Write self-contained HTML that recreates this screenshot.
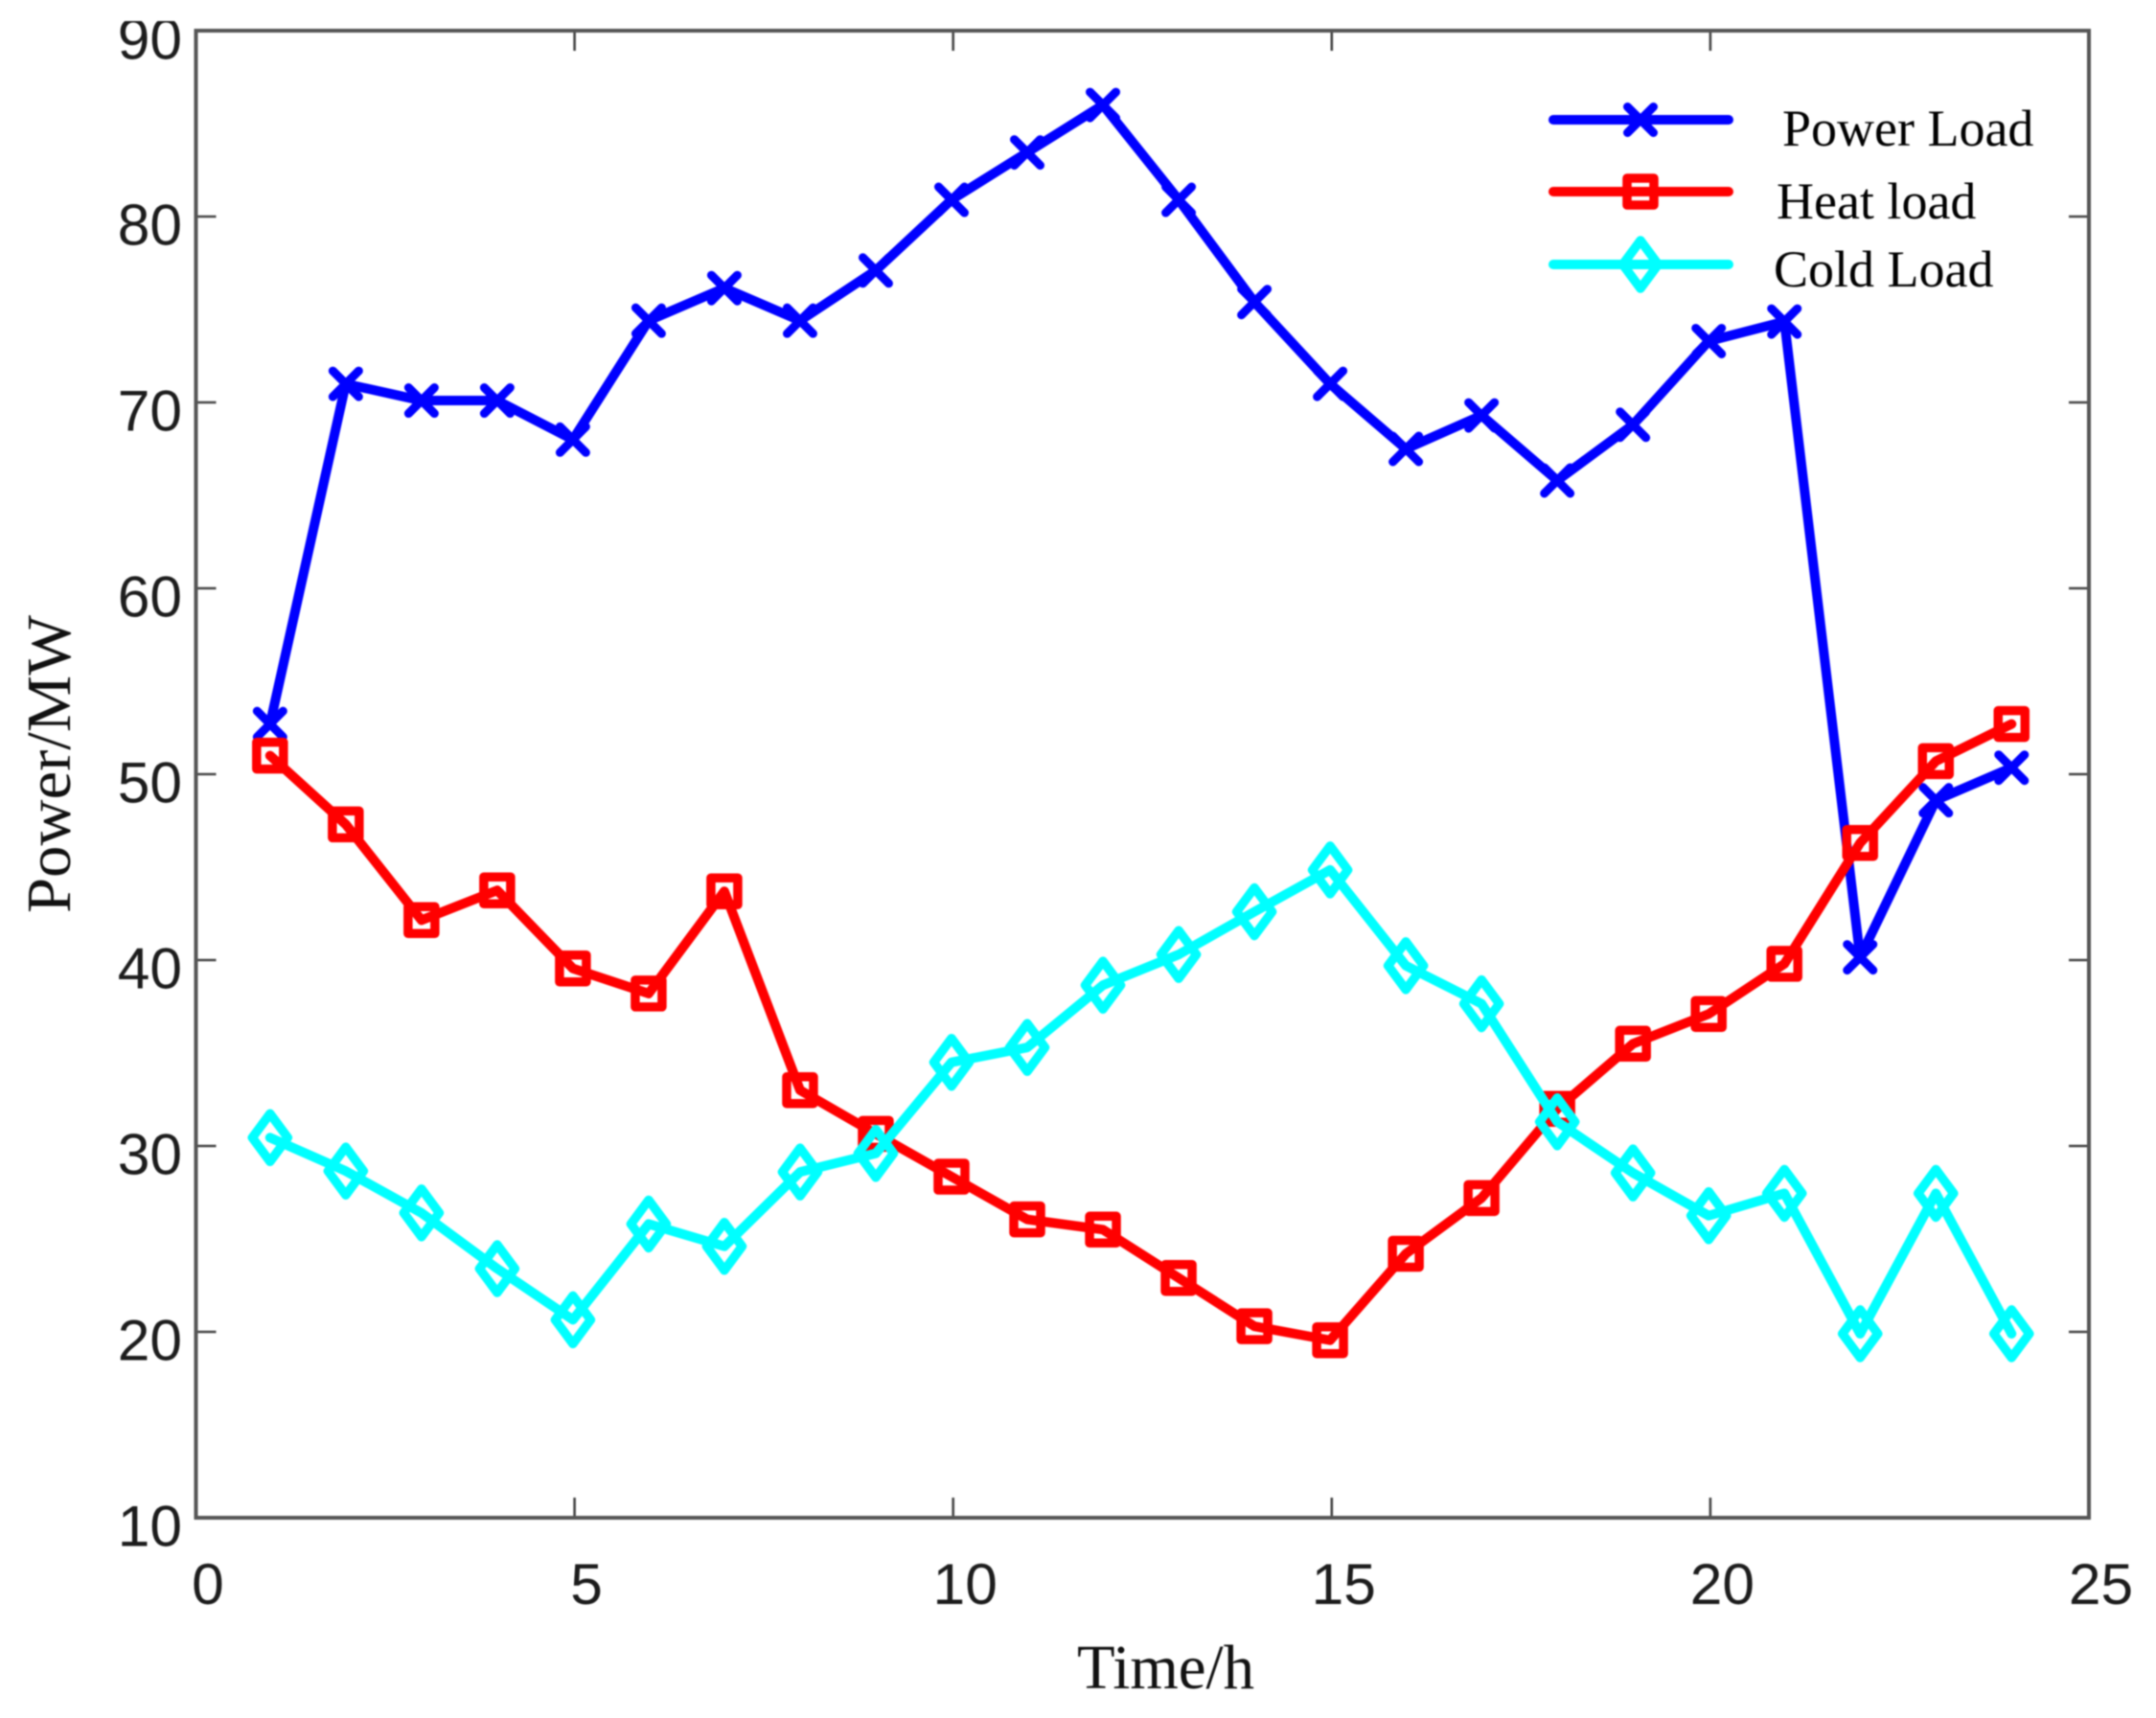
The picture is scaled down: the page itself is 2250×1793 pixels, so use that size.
<!DOCTYPE html>
<html lang="en">
<head>
<meta charset="utf-8">
<title>Power, heat and cold load over time</title>
<style>
  html, body { margin: 0; padding: 0; background: #fff; }
  body { width: 2250px; height: 1793px; overflow: hidden; }
  svg { display: block; filter: blur(0.7px); }
  .tick-label { font-family: "Liberation Sans", sans-serif; font-size: 60.5px; fill: #1c1c1c; }
  .title { font-family: "Liberation Serif", serif; font-size: 66px; fill: #111; }
  .legend-text { font-family: "Liberation Serif", serif; font-size: 54px; fill: #000; }
</style>
</head>
<body>
<svg id="chart" xmlns="http://www.w3.org/2000/svg" width="2250" height="1793" viewBox="0 0 2250 1793">
  <rect x="0" y="0" width="2250" height="1793" fill="#ffffff"/>
  <g id="ticks"></g>
  <g id="tick-labels"></g>
  <rect x="204.5" y="32" width="1975.5" height="1552" fill="none" stroke="#555" stroke-width="4"/>
  <text class="title" x="1124" y="1762" textLength="185" lengthAdjust="spacingAndGlyphs">Time/h</text>
  <text class="title" transform="translate(73 953) rotate(-90)" x="0" y="0" textLength="311" lengthAdjust="spacingAndGlyphs">Power/MW</text>
  <g id="series"></g>
  <g id="legend">
    <text class="legend-text" x="1860" y="152">Power Load</text>
    <text class="legend-text" x="1854" y="228">Heat load</text>
    <text class="legend-text" x="1851" y="299">Cold Load</text>
  </g>
</svg>
<script>
const hours = [1,2,3,4,5,6,7,8,9,10,11,12,13,14,15,16,17,18,19,20,21,22,23,24];
const powerLoad = [52.7,71.0,70.1,70.1,68.0,74.4,76.15,74.4,77.1,80.9,83.45,86.0,80.9,75.4,71.0,67.5,69.3,65.8,68.8,73.3,74.35,40.15,48.6,50.35];
const heatLoad = [51.0,47.3,42.15,43.75,39.55,38.2,43.7,33.0,30.65,28.35,26.05,25.5,22.9,20.3,19.55,24.2,27.2,32.0,35.5,37.1,39.8,46.3,50.7,52.7];
const coldLoad = [30.45,28.65,26.4,23.4,20.65,25.8,24.6,28.6,29.6,34.5,35.3,38.65,40.3,42.6,44.85,39.7,37.65,31.3,28.55,26.25,27.45,19.9,27.45,19.9];
const xTickValues = [0,5,10,15,20,25];
const yTickValues = [10,20,30,40,50,60,70,80,90];

const NS = 'http://www.w3.org/2000/svg';
const plotLeft = 204.5, plotRight = 2180, plotTop = 32, plotBottom = 1584;
const xMin = 0, xMax = 25, yMin = 10, yMax = 90;
const markShift = -1.7;
function xScale(v) { return plotLeft + (v - xMin) / (xMax - xMin) * (plotRight - plotLeft); }
function yScale(v) { return plotBottom - (v - yMin) / (yMax - yMin) * (plotBottom - plotTop); }

function make(tag, attrs, parent) {
  const el = document.createElementNS(NS, tag);
  for (const k in attrs) el.setAttribute(k, attrs[k]);
  parent.appendChild(el);
  return el;
}

const ticksG = document.getElementById('ticks');
const labelsG = document.getElementById('tick-labels');
const tickLen = 21;
const tickStyle = { stroke: '#444', 'stroke-width': 2.6 };

xTickValues.forEach(function (v) {
  const x = xScale(v);
  if (v !== xMin && v !== xMax) {
    const b = make('line', Object.assign({ x1: x, x2: x, y1: plotBottom, y2: plotBottom - tickLen }, tickStyle), ticksG);
    
    
    const t = make('line', Object.assign({ x1: x, x2: x, y1: plotTop, y2: plotTop + tickLen }, tickStyle), ticksG);
    
    
  }
  const label = make('text', { class: 'tick-label', x: x + 12.5, y: 1674, 'text-anchor': 'middle' }, labelsG);
  label.textContent = String(v);
  
  
});

yTickValues.forEach(function (v) {
  const y = yScale(v);
  if (v !== yMin && v !== yMax) {
    const l = make('line', Object.assign({ x1: plotLeft, x2: plotLeft + tickLen, y1: y, y2: y }, tickStyle), ticksG);
    
    
    const r = make('line', Object.assign({ x1: plotRight, x2: plotRight - tickLen, y1: y, y2: y }, tickStyle), ticksG);
    
    
  }
  const label = make('text', { class: 'tick-label', x: 190, y: y + 29.5, 'text-anchor': 'end' }, labelsG);
  label.textContent = String(v);
  
  
});

/* cover: the top of the "90" label is cut off in the source figure */
const topMask = make('rect', { x: 100, y: 0, width: 100, height: 22, fill: '#fff' }, labelsG);



function markerPath(kind, cx, cy) {
  if (kind === 'x') {
    const r = 13.5;
    return 'M' + (cx - r) + ' ' + (cy - r) + 'L' + (cx + r) + ' ' + (cy + r) +
           'M' + (cx - r) + ' ' + (cy + r) + 'L' + (cx + r) + ' ' + (cy - r);
  }
  if (kind === 'square') {
    const r = 14;
    return 'M' + (cx - r) + ' ' + (cy - r) + 'H' + (cx + r) + 'V' + (cy + r) + 'H' + (cx - r) + 'Z';
  }
  const w = 18.5, h = 25;
  return 'M' + cx + ' ' + (cy - h) + 'L' + (cx + w) + ' ' + cy + 'L' + cx + ' ' + (cy + h) + 'L' + (cx - w) + ' ' + cy + 'Z';
}

function drawSeries(values, color, kind, markerWidth, seriesName) {
  const parent = document.getElementById('series');
  const group = make('g', {}, parent);
  
  
  const pts = values.map(function (v, i) { return (xScale(hours[i]) + markShift) + ',' + yScale(v); }).join(' ');
  const line = make('polyline', { points: pts, fill: 'none', stroke: color, 'stroke-width': 10, 'stroke-linejoin': 'round', 'stroke-linecap': 'round' }, group);
  
  
  values.forEach(function (v, i) {
    const m = make('path', { d: markerPath(kind, xScale(hours[i]) + markShift, yScale(v)), fill: 'none', stroke: color, 'stroke-width': markerWidth, 'stroke-linejoin': 'round', 'stroke-linecap': 'round' }, group);
    
    
  });
}

drawSeries(powerLoad, '#0000ff', 'x', 9, 'power-load');
drawSeries(heatLoad, '#ff0000', 'square', 9.5, 'heat-load');
drawSeries(coldLoad, '#00ffff', 'diamond', 9.5, 'cold-load');

function drawLegendKey(cy, color, kind, markerWidth, keyName) {
  const parent = document.getElementById('legend');
  const line = make('line', { x1: 1621, x2: 1804, y1: cy, y2: cy, stroke: color, 'stroke-width': 10, 'stroke-linecap': 'round' }, parent);
  
  
  const m = make('path', { d: markerPath(kind, 1712, cy), fill: 'none', stroke: color, 'stroke-width': markerWidth, 'stroke-linejoin': 'round', 'stroke-linecap': 'round' }, parent);
  
  
}

drawLegendKey(125, '#0000ff', 'x', 9, 'power-load');
drawLegendKey(200, '#ff0000', 'square', 9.5, 'heat-load');
drawLegendKey(276, '#00ffff', 'diamond', 9.5, 'cold-load');
</script>
</body>
</html>
